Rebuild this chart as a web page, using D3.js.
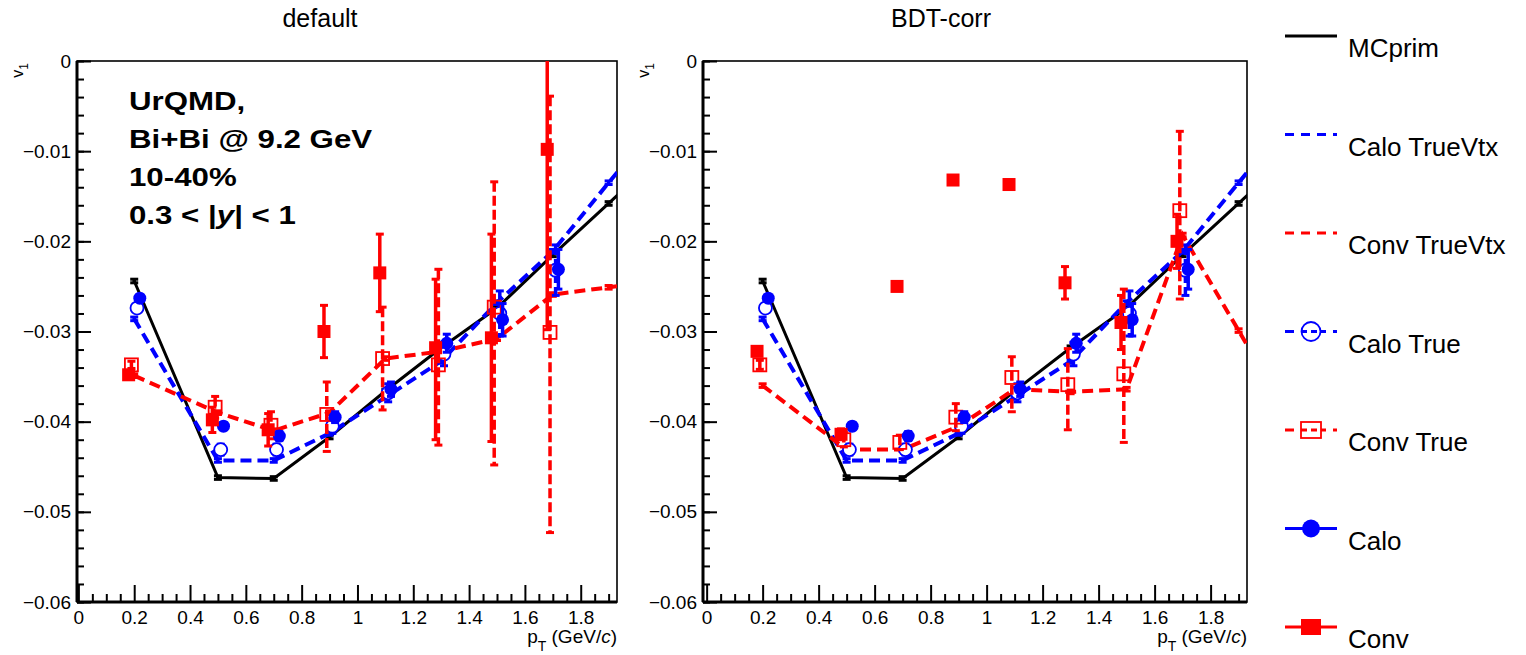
<!DOCTYPE html>
<html>
<head>
<meta charset="utf-8">
<script src="https://cdn.jsdelivr.net/npm/d3@7"></script>
<style>
  body { margin: 0; background: #fff; }
  text { font-family: "Liberation Sans", Arial, Helvetica, sans-serif; }
</style>
</head>
<body>
<svg id="chart" width="1526" height="655"></svg>
<script>
// pT bin centres (GeV/c); the "TrueVtx" / MCprim graphs go one bin beyond the frame
var ptBins = [0.2, 0.5, 0.7, 0.9, 1.1, 1.3, 1.5, 1.7];
var ptLine = [0.2, 0.5, 0.7, 0.9, 1.1, 1.3, 1.5, 1.7, 1.9, 2.1];

// same in both panels
var mcPrim      = [-0.0244, -0.0462, -0.0463, -0.0417, -0.0366, -0.0318, -0.0274, -0.0215, -0.0158, -0.0100];
var caloTrueVtx = [-0.0286, -0.0443, -0.0443, -0.0413, -0.0373, -0.0333, -0.0268, -0.0211, -0.0135, -0.0060];
var caloTrue    = [-0.0274, -0.0431, -0.0431, -0.0405, -0.0368, -0.0325, -0.0280, -0.0232];
var caloTrueErr = [0.0005, 0.0006, 0.0006, 0.0008, 0.0010, 0.0013, 0.0025, 0.0028];
var calo        = [-0.0263, -0.0405, -0.0416, -0.0395, -0.0364, -0.0313, -0.0287, -0.0231];
var caloErr     = [0.0003, 0.0004, 0.0005, 0.0006, 0.0008, 0.0010, 0.0018, 0.0022];

// "default"
var convTrueVtxDefault    = [-0.0349, -0.0390, -0.0410, -0.0390, -0.0330, -0.0322, -0.0308, -0.0259, -0.0251, -0.0243];
var convTrueDefault       = [-0.0337, -0.0384, -0.0404, -0.0392, -0.0330, -0.0337, -0.0273, -0.0301];
var convTrueDefaultErrUp  = [0.0004, 0.0012, 0.0015, 0.0036, 0.0057, 0.0106, 0.0139, 0.0262];
var convTrueDefaultErrLow = [0.0004, 0.0012, 0.0015, 0.0041, 0.0057, 0.0089, 0.0175, 0.0222];
var convDefault           = [-0.0348, -0.0398, -0.0409, -0.0300, -0.0235, -0.0318, -0.0307, -0.0098];
var convDefaultErrUp      = [0.0004, 0.0014, 0.0018, 0.0029, 0.0043, 0.0076, 0.0115, 0.0200];
var convDefaultErrLow     = [0.0004, 0.0014, 0.0018, 0.0029, 0.0043, 0.0102, 0.0115, 0.0200];

// "BDT-corr"
var convTrueVtxBdt    = [-0.0360, -0.0431, -0.0431, -0.0405, -0.0364, -0.0367, -0.0364, -0.0193, -0.0299, -0.0405];
var convTrueBdt       = [-0.0337, -0.0420, -0.0423, -0.0395, -0.0351, -0.0359, -0.0347, -0.0166];
var convTrueBdtErrUp  = [0.0005, 0.0008, 0.0008, 0.0015, 0.0023, 0.0040, 0.0094, 0.0088];
var convTrueBdtErrLow = [0.0005, 0.0008, 0.0008, 0.0015, 0.0038, 0.0050, 0.0076, 0.0098];
var convBdt           = [-0.0322, -0.0414, -0.0250, -0.0132, -0.0137, -0.0246, -0.0290, -0.0200];
var convBdtErr        = [0.0003, 0.0006, 0.0003, 0.0002, 0.0005, 0.0018, 0.0030, 0.0030];

var xMajorTicks = [0, 0.2, 0.4, 0.6, 0.8, 1.0, 1.2, 1.4, 1.6, 1.8];
var yMajorTicks = [0, -0.01, -0.02, -0.03, -0.04, -0.05, -0.06];
var infoLines = ["UrQMD,", "Bi+Bi @ 9.2 GeV", "10-40%", "0.3 < |y| < 1"];
var legendLabels = ["MCprim", "Calo TrueVtx", "Conv TrueVtx", "Calo True", "Conv True", "Calo", "Conv"];

var RED = "#ff0000", BLUE = "#0000ff", DASH = "11,6", ERR_DASH = "10,4";
var plotTop = 61, plotBottom = 602;

var svg = d3.select("#chart");

function errorBars(g, x, y, xs, vals, up, low, color, dashed) {
  var sel = g.append("g").selectAll("g").data(vals.map(function(v, i) {
    return {x: xs[i], v: v, up: up[i], low: low[i]};
  })).enter().append("g")
    .attr("stroke", color)
    .attr("stroke-width", 3.5)
    .attr("stroke-dasharray", dashed ? ERR_DASH : null);
  sel.append("line")
    .attr("x1", function(d) { return x(d.x); })
    .attr("x2", function(d) { return x(d.x); })
    .attr("y1", function(d) { return y(d.v + d.up); })
    .attr("y2", function(d) { return y(d.v - d.low); });
  [1, -1].forEach(function(s) {
    sel.append("line")
      .attr("stroke-dasharray", null)
      .attr("stroke-width", 3)
      .attr("x1", function(d) { return x(d.x) - 4; })
      .attr("x2", function(d) { return x(d.x) + 4; })
      .attr("y1", function(d) { return y(s > 0 ? d.v + d.up : d.v - d.low); })
      .attr("y2", function(d) { return y(s > 0 ? d.v + d.up : d.v - d.low); });
  });
}

function lineGraph(g, x, y, vals, color, dashed, width) {
  var line = d3.line()
    .x(function(d, i) { return x(ptLine[i]); })
    .y(function(d) { return y(d); });
  g.append("path")
    .attr("d", line(vals))
    .attr("fill", "none")
    .attr("stroke", color)
    .attr("stroke-width", width)
    .attr("stroke-dasharray", dashed ? DASH : null);
  // tiny stat. errors with caps at every vertex
  var small = vals.map(function() { return 0.0002; });
  errorBars(g, x, y, ptLine, vals, small, small, color, false);
}

function drawPanel(cfg) {
  var x = d3.scaleLinear().domain([cfg.x0, 1.93]).range([cfg.left, cfg.right]),
      y = d3.scaleLinear().domain([-0.06, 0]).range([plotBottom, plotTop]),
      clipId = "clip-" + cfg.id,
      xs = function(shift) { return ptBins.map(function(p) { return p + shift; }); };

  svg.append("clipPath").attr("id", clipId)
    .append("rect")
    .attr("x", cfg.left).attr("y", plotTop)
    .attr("width", cfg.right - cfg.left).attr("height", plotBottom - plotTop);

  svg.append("text")
    .attr("x", cfg.titleX)
    .attr("y", 27)
    .attr("text-anchor", "middle")
    .style("font-size", "25px")
    .text(cfg.title);

  // frame
  svg.append("rect")
    .attr("x", cfg.left).attr("y", plotTop)
    .attr("width", cfg.right - cfg.left).attr("height", plotBottom - plotTop)
    .attr("fill", "none").attr("stroke", "#000").attr("stroke-width", 1.6);

  // axes (ticks inside, as in ROOT)
  var xMinor = d3.range(0, 1.93, 0.05).filter(function(v) { return Math.abs(v / 0.2 - Math.round(v / 0.2)) > 1e-6; });
  var gx = svg.append("g").attr("transform", "translate(0," + plotBottom + ")");
  gx.append("g").call(d3.axisBottom(x).tickValues(xMinor).tickSize(-8).tickFormat(""));
  gx.append("g").call(d3.axisBottom(x).tickValues(xMajorTicks).tickSize(-17).tickPadding(9)
    .tickFormat(function(d) { return String(+d.toFixed(1)); }));
  gx.selectAll(".domain").remove();
  gx.selectAll(".tick line").attr("stroke-width", 2);
  gx.selectAll(".tick text").style("font-size", "19px").attr("fill", "#000");
  gx.append("line").attr("x1", cfg.left).attr("x2", cfg.right)
    .attr("stroke", "#000").attr("stroke-width", 3);

  var yMinor = d3.range(-0.06, 0.0001, 0.002);
  var gy = svg.append("g").attr("transform", "translate(" + cfg.left + ",0)");
  gy.append("g").call(d3.axisLeft(y).tickValues(yMinor).tickSize(-7).tickFormat(""));
  gy.append("g").call(d3.axisLeft(y).tickValues(yMajorTicks).tickSize(-14).tickPadding(6)
    .tickFormat(function(d) { return d === 0 ? "0" : "\u2212" + Math.abs(d).toFixed(2); }));
  gy.selectAll(".domain").remove();
  gy.selectAll(".tick line").attr("stroke-width", 2);
  gy.selectAll(".tick text").style("font-size", "19px").attr("fill", "#000");
  gy.append("line").attr("y1", plotTop).attr("y2", plotBottom)
    .attr("stroke", "#000").attr("stroke-width", 3);

  // axis titles
  var xt = svg.append("text")
    .attr("x", cfg.right).attr("y", 643)
    .attr("text-anchor", "end")
    .style("font-size", "19px");
  xt.append("tspan").text("p");
  xt.append("tspan").attr("dy", 8).style("font-size", "14px").text("T");
  xt.append("tspan").attr("dy", -8).text(" (GeV/");
  xt.append("tspan").style("font-style", "italic").text("c");
  xt.append("tspan").text(")");

  var yt = svg.append("text")
    .attr("transform", "translate(" + (cfg.left - 54) + "," + (plotTop + 2) + ") rotate(-90)")
    .attr("text-anchor", "end")
    .style("font-size", "16px");
  yt.append("tspan").text("v");
  yt.append("tspan").attr("dy", 5).style("font-size", "12px").text("1");

  var g = svg.append("g").attr("clip-path", "url(#" + clipId + ")");

  lineGraph(g, x, y, mcPrim, "#000", false, 3);
  lineGraph(g, x, y, caloTrueVtx, BLUE, true, 4);
  lineGraph(g, x, y, cfg.convTrueVtx, RED, true, 4);

  // Calo True: open circles, dashed errors
  errorBars(g, x, y, xs(0.01), caloTrue, caloTrueErr, caloTrueErr, BLUE, true);
  g.append("g").selectAll("circle").data(caloTrue).enter().append("circle")
    .attr("cx", function(d, i) { return x(ptBins[i] + 0.01); })
    .attr("cy", function(d) { return y(d); })
    .attr("r", 6.5)
    .attr("fill", "#fff").attr("stroke", BLUE).attr("stroke-width", 1.8);

  // Conv True: open squares, dashed errors
  errorBars(g, x, y, xs(-0.01), cfg.convTrue, cfg.convTrueUp, cfg.convTrueLow, RED, true);
  g.append("g").selectAll("rect").data(cfg.convTrue).enter().append("rect")
    .attr("x", function(d, i) { return x(ptBins[i] - 0.01) - 6.5; })
    .attr("y", function(d) { return y(d) - 6.5; })
    .attr("width", 13).attr("height", 13)
    .attr("fill", "none").attr("stroke", RED).attr("stroke-width", 1.8);

  // Calo: filled circles
  errorBars(g, x, y, xs(0.02), calo, caloErr, caloErr, BLUE, false);
  g.append("g").selectAll("circle").data(calo).enter().append("circle")
    .attr("cx", function(d, i) { return x(ptBins[i] + 0.02); })
    .attr("cy", function(d) { return y(d); })
    .attr("r", 6.5)
    .attr("fill", BLUE);

  // Conv: filled squares
  errorBars(g, x, y, xs(-0.02), cfg.conv, cfg.convUp, cfg.convLow, RED, false);
  g.append("g").selectAll("rect").data(cfg.conv).enter().append("rect")
    .attr("x", function(d, i) { return x(ptBins[i] - 0.02) - 6.5; })
    .attr("y", function(d) { return y(d) - 6.5; })
    .attr("width", 13).attr("height", 13)
    .attr("fill", RED);
}

drawPanel({id: "default", title: "default", titleX: 320, left: 77, right: 617, x0: -0.005,
  convTrueVtx: convTrueVtxDefault,
  convTrue: convTrueDefault, convTrueUp: convTrueDefaultErrUp, convTrueLow: convTrueDefaultErrLow,
  conv: convDefault, convUp: convDefaultErrUp, convLow: convDefaultErrLow});

drawPanel({id: "bdt", title: "BDT-corr", titleX: 941, left: 703, right: 1247, x0: -0.013,
  convTrueVtx: convTrueVtxBdt,
  convTrue: convTrueBdt, convTrueUp: convTrueBdtErrUp, convTrueLow: convTrueBdtErrLow,
  conv: convBdt, convUp: convBdtErr, convLow: convBdtErr});

// info text in the left pad
var info = svg.append("g")
  .attr("transform", "translate(129,0) scale(1.25,1)")
  .style("font-weight", "bold")
  .style("font-size", "25px");
infoLines.forEach(function(s, i) {
  var t = info.append("text").attr("x", 0).attr("y", 110 + i * 38);
  if (s.indexOf("|y|") >= 0) {
    var parts = s.split("y");
    t.append("tspan").text(parts[0]);
    t.append("tspan").style("font-style", "italic").text("y");
    t.append("tspan").text(parts[1]);
  } else {
    t.text(s);
  }
});

// legend
var legX0 = 1285, legX1 = 1337, legMid = (legX0 + legX1) / 2;
var leg = svg.append("g").selectAll("g").data(legendLabels).enter().append("g")
  .attr("transform", function(d, i) { return "translate(0," + (36 + i * 98.5) + ")"; });

leg.append("line")
  .attr("x1", legX0).attr("x2", legX1)
  .attr("stroke", function(d, i) { return i === 0 ? "#000" : (i % 2 === 1 ? BLUE : RED); })
  .attr("stroke-width", 3)
  .attr("stroke-dasharray", function(d, i) { return (i >= 1 && i <= 4) ? "9,7" : null; });

leg.filter(function(d, i) { return i === 3 || i === 5; }).append("circle")
  .attr("cx", legMid).attr("r", function(d) { return d === "Calo" ? 9 : 9.5; })
  .attr("fill", function(d) { return d === "Calo" ? BLUE : "#fff"; })
  .attr("stroke", BLUE).attr("stroke-width", function(d) { return d === "Calo" ? 0 : 1.8; });

leg.filter(function(d, i) { return i === 4 || i === 6; }).append("rect")
  .attr("x", legMid - 10).attr("y", -8).attr("width", 20).attr("height", 16)
  .attr("fill", function(d) { return d === "Conv" ? RED : "#fff"; })
  .attr("stroke", RED).attr("stroke-width", function(d) { return d === "Conv" ? 0 : 1.8; });

leg.filter(function(d, i) { return i === 3 || i === 4; }).append("line")
  .attr("x1", legMid - 10).attr("x2", legMid + 10)
  .attr("stroke", function(d, i) { return i === 0 ? BLUE : RED; })
  .attr("stroke-width", 3).attr("stroke-dasharray", "6,4");

leg.append("text")
  .attr("x", 1348).attr("y", 21)
  .style("font-size", "26px")
  .text(function(d) { return d; });
</script>
</body>
</html>
